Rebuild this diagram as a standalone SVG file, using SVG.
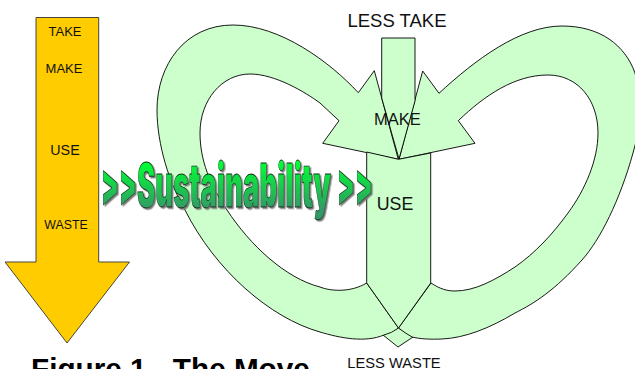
<svg xmlns="http://www.w3.org/2000/svg" width="635" height="369" viewBox="0 0 635 369">
<style>
.s{fill:#ccffcc;stroke:#000;stroke-width:.9;stroke-linejoin:miter}
.o{fill:#ffcc00;stroke:#333;stroke-width:.9}
text{font-family:"Liberation Sans",Arial,sans-serif;fill:#111;text-anchor:middle}
.w{font-family:Inter,"Liberation Sans",sans-serif;font-weight:900;fill:url(#g);stroke:#0a2a14;stroke-width:.8;text-anchor:start;filter:url(#sh)}
</style>
<defs>
<linearGradient id="g" gradientUnits="userSpaceOnUse" x1="0" y1="163" x2="0" y2="209"><stop offset="0" stop-color="#00ff33"/><stop offset="1" stop-color="#339966"/></linearGradient>
<filter id="sh" x="-5%" y="-5%" width="110%" height="115%"><feDropShadow dx="1.5" dy="1.5" stdDeviation=".6" flood-color="#777"/></filter>
</defs>
<rect width="635" height="369" fill="#fff"/>
<g id="old-arrow">
<polygon class="o" points="36,17.5 98.7,17.5 98.7,262 129.5,262 67,343 5,262 36,262"/>
<text x="65" y="36" font-size="13">TAKE</text>
<text x="64" y="73" font-size="13">MAKE</text>
<text x="65" y="155" font-size="14.3">USE</text>
<text x="66" y="229" font-size="12.3">WASTE</text>
</g>
<g id="connectors">
<path id="tail" class="s" d="M383,335 L398,347 L413,337 L398.5,328 Z"/>
<path id="left-loop" class="s" d="M374.3,70.7 L358.3,92.7 C330,62 280,25 233,25 C185,25 157,65 157,110 C157,145 170,185 185,210 C215,270 270,318 320,332 C340,338 365,343 384,335 Q392,333 398.5,328 L366.7,283 C350,293 330,291 320,287 C285,278 250,245 227,210 C210,185 200,160 200,133 C200,100 222,74 250,74 C275,74 305,92 320,103 L339,120.7 L322.7,143.3 L398.3,159.3 Z"/>
<path id="right-loop" class="s" d="M422.7,71 L439,93.3 C475,60 520,26 562,26 C600,26 625,45 635,73 C642,100 640,130 633,153 C620,200 600,240 582,260 C555,290 535,303 515,313 C490,328 465,338 442,339 C430,339.5 420,339 412,337 Q405,333 398.5,328 L431,283 C440,289 447,291 455,291 C475,291 495,280 515,267 C535,253 552,235 568,213 C585,190 598,160 598,133 C598,100 578,75 548,75 C515,75 485,95 458.3,120.7 L475,143.3 L399,159.3 Z"/>
<polygon id="less-take" class="s" points="381.7,38 415,38 415,101 399,159 381.7,98"/>
<polygon id="centre" class="s" points="366.7,152 398.5,159.3 430.7,153 430.7,283 398.5,328 366.7,283"/>
</g>
<g id="labels">
<text x="397" y="26.5" font-size="18.5">LESS TAKE</text>
<text x="397.5" y="125" font-size="16.5">MAKE</text>
<text x="395" y="210" font-size="17.8">USE</text>
<text x="394" y="367.5" font-size="14.7">LESS WASTE</text>
<text x="31" y="379" font-size="29.7" font-weight="bold" style="fill:#000;text-anchor:start">Figure 1 - The Move</text>
</g>
<g id="wordart">
<text class="w" x="101" y="205" font-size="58" textLength="36" lengthAdjust="spacingAndGlyphs">&gt;&gt;</text>
<text class="w" x="137" y="207" font-size="60" textLength="194" lengthAdjust="spacingAndGlyphs">Sustainability</text>
<text class="w" x="337" y="205" font-size="58" textLength="36" lengthAdjust="spacingAndGlyphs">&gt;&gt;</text>
</g>
</svg>
